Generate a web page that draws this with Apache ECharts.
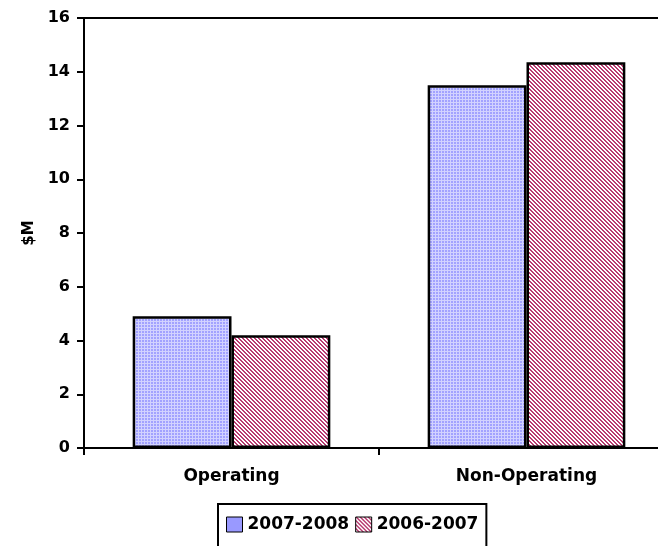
<!DOCTYPE html>
<html>
<head>
<meta charset="utf-8">
<script src="https://cdn.jsdelivr.net/npm/echarts@6/dist/echarts.min.js"></script>
<style>
  html, body { margin: 0; padding: 0; background: #fff; }
  #chart { width: 658px; height: 546px; }
</style>
</head>
<body>
<div id="chart"></div>
<script>
// data
const categories = ['Operating', 'Non-Operating'];
const seriesNames = ['2007-2008', '2006-2007'];
const values0708 = [4.9, 13.5];
const values0607 = [4.2, 14.35];
const yTicks = [0, 2, 4, 6, 8, 10, 12, 14, 16];

const FONT = '"DejaVu Sans", sans-serif';

// excel-like fill patterns
function makePattern(kind) {
  let c = document.createElement('canvas');
  let size = kind === 'grid' ? 3 : 4;
  c.width = size; c.height = size;
  let ctx = c.getContext('2d');
  if (kind === 'grid') {
    ctx.fillStyle = '#a2a2ff';
    ctx.fillRect(0, 0, size, size);
    ctx.fillStyle = '#d2d2ff';
    ctx.fillRect(0, 0, size, 1);
    ctx.fillRect(0, 0, 1, size);
  } else {
    ctx.fillStyle = '#ffffff';
    ctx.fillRect(0, 0, size, size);
    ctx.fillStyle = '#b83a70';
    for (let x = 0; x < size; x++) {
      for (let y = 0; y < size; y++) {
        if (((x - y) % 4 + 4) % 4 < 2) ctx.fillRect(x, y, 1, 1);
      }
    }
  }
  return { image: c, repeat: 'repeat' };
}

let chart = echarts.init(document.getElementById('chart'), null, { renderer: 'canvas' });

let option = {
  backgroundColor: '#fff',
  animation: false,
  grid: {
    left: 84, right: -16, top: 18, bottom: 98,
    outerBoundsMode: 'none',
    containLabel: false,
    show: true, borderColor: '#000', borderWidth: 2,
    backgroundColor: 'transparent'
  },
  legend: {
    left: 218, top: 504,
    padding: [12, 8, 14, 8],
    itemGap: 6,
    itemWidth: 16, itemHeight: 15,
    borderColor: '#000', borderWidth: 2,
    backgroundColor: '#fff',
    textStyle: { fontFamily: FONT, fontWeight: 'bold', fontSize: 17, color: '#000' },
    data: [
      { name: seriesNames[0], icon: 'rect', itemStyle: { color: '#9999ff', borderColor: '#000', borderWidth: 1 } },
      { name: seriesNames[1], icon: 'rect', itemStyle: { borderColor: '#000', borderWidth: 1 } }
    ]
  },
  xAxis: {
    type: 'category',
    data: categories,
    axisLine: { lineStyle: { color: '#000', width: 2 } },
    axisTick: { show: true, length: 7, lineStyle: { color: '#000', width: 2 } },
    axisLabel: { margin: 20, fontFamily: FONT, fontWeight: 'bold', fontSize: 17, color: '#000' },
    splitLine: { show: false }
  },
  yAxis: {
    type: 'value',
    min: yTicks[0], max: yTicks[yTicks.length - 1], interval: 2,
    name: '$M',
    nameLocation: 'middle',
    nameRotate: 90,
    nameGap: 38,
    nameTextStyle: { fontFamily: FONT, fontWeight: 'bold', fontSize: 15, color: '#000' },
    axisLine: { show: true, lineStyle: { color: '#000', width: 2 } },
    axisTick: { show: true, length: 7, lineStyle: { color: '#000', width: 2 } },
    axisLabel: { margin: 14, fontFamily: FONT, fontWeight: 'bold', fontSize: 16, color: '#000' },
    splitLine: { show: false }
  },
  series: [
    {
      name: seriesNames[0],
      type: 'bar',
      data: values0708,
      barGap: '0%',
      barCategoryGap: '33%',
      itemStyle: { color: makePattern('grid'), borderColor: '#000', borderWidth: 2.5 }
    },
    {
      name: seriesNames[1],
      type: 'bar',
      data: values0607,
      barGap: '0%',
      barCategoryGap: '33%',
      itemStyle: { color: makePattern('hatch'), borderColor: '#000', borderWidth: 2.5 }
    }
  ]
};

chart.setOption(option);
</script>
</body>
</html>
